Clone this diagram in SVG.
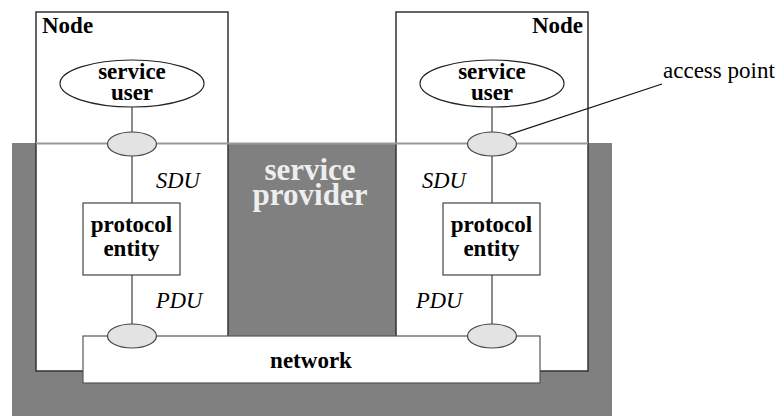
<svg xmlns="http://www.w3.org/2000/svg" width="783" height="416" viewBox="0 0 783 416" font-family="Liberation Serif, serif">
<style>
.t{font-family:"Liberation Serif","Times New Roman",serif;fill:#000}
.b{font-weight:bold;font-size:23px}
.i{font-style:italic;font-size:22.5px}
.r{font-size:23px}
.box{fill:#fff;stroke:#333;stroke-width:1.5}
.pe{fill:#fff;stroke:#444;stroke-width:1.2}
.su{fill:#fff;stroke:#222;stroke-width:1.2}
.ap{fill:#e3e3e3;stroke:#444;stroke-width:1.2}
.conn{stroke:#666;stroke-width:1.5;fill:none}
.m{text-anchor:middle}
</style>
<rect width="783" height="416" fill="#fff"/>
<g id="service-provider">
<rect x="12" y="143" width="600" height="273" fill="#808080"/>
<text class="t m" x="310" y="180" style="font-weight:bold;font-size:31px;fill:#eee">service</text>
<text class="t m" x="310" y="205" style="font-weight:bold;font-size:31px;fill:#eee">provider</text>
</g>
<g id="node-left">
<rect class="box" x="36" y="12" width="192" height="359"/>
<text class="t b" x="42" y="33">Node</text>
</g>
<g id="node-right">
<rect class="box" x="396" y="12" width="192" height="359"/>
<text class="t b" x="583" y="33" text-anchor="end">Node</text>
</g>
<line id="service-boundary" x1="36" y1="143.5" x2="588" y2="143.5" stroke="#999" stroke-width="2"/>
<g id="network">
<rect x="83" y="336" width="457" height="47" fill="#fff" stroke="#555" stroke-width="1.2"/>
<text class="t b m" x="311" y="368">network</text>
</g>
<g id="connectors">
<line class="conn" x1="132" y1="107" x2="132" y2="203"/>
<line class="conn" x1="132" y1="275" x2="132" y2="324"/>
<line class="conn" x1="492" y1="107" x2="492" y2="203"/>
<line class="conn" x1="492" y1="275" x2="492" y2="324"/>
<line x1="662" y1="84" x2="508" y2="135" stroke="#111" stroke-width="1.3"/>
</g>
<g id="service-user-left">
<ellipse class="su" cx="132" cy="83.5" rx="72" ry="23.5"/>
<text class="t b m" x="132" y="79">service</text>
<text class="t b m" x="132" y="100">user</text>
</g>
<g id="service-user-right">
<ellipse class="su" cx="492" cy="83.5" rx="72" ry="23.5"/>
<text class="t b m" x="492" y="79">service</text>
<text class="t b m" x="492" y="100">user</text>
</g>
<g id="sap-left"><ellipse class="ap" cx="132" cy="144" rx="24.5" ry="12"/></g>
<g id="sap-right"><ellipse class="ap" cx="492" cy="144" rx="24.5" ry="12"/></g>
<g id="pdu-point-left"><ellipse class="ap" cx="132" cy="336" rx="24.5" ry="12"/></g>
<g id="pdu-point-right"><ellipse class="ap" cx="492" cy="336" rx="24.5" ry="12"/></g>
<g id="protocol-entity-left">
<rect class="pe" x="83" y="203" width="97" height="72"/>
<text class="t b m" x="131.5" y="232">protocol</text>
<text class="t b m" x="131.5" y="256">entity</text>
</g>
<g id="protocol-entity-right">
<rect class="pe" x="443" y="203" width="97" height="72"/>
<text class="t b m" x="491.5" y="232">protocol</text>
<text class="t b m" x="491.5" y="256">entity</text>
</g>
<g id="labels">
<text class="t i" x="156" y="188">SDU</text>
<text class="t i" x="422" y="188">SDU</text>
<text class="t i" x="156" y="308">PDU</text>
<text class="t i" x="416" y="308">PDU</text>
<text class="t r" x="663" y="78">access point</text>
</g>
</svg>
